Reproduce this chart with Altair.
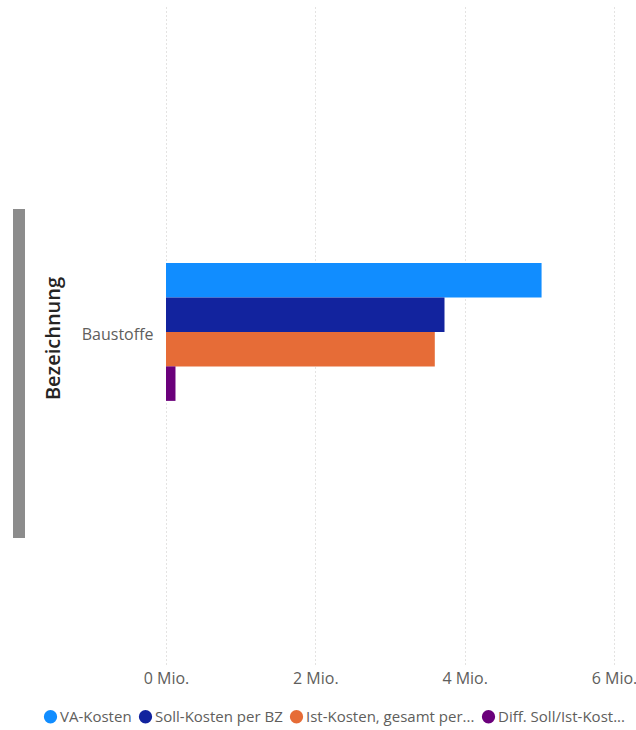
import altair as alt
import pandas as pd

categories = ["Baustoffe"]
series = ["VA-Kosten", "Soll-Kosten per BZ", "Ist-Kosten, gesamt per...", "Diff. Soll/Ist-Kost..."]
values = [5030000, 3730000, 3600000, 127000]
colors = ["#118DFF", "#12239E", "#E66C37", "#6B007B"]
x_ticks = [0, 2000000, 4000000, 6000000]

df = pd.DataFrame({
    "Bezeichnung": categories * len(series),
    "Serie": series,
    "Wert": values,
})

FONT = "Open Sans"

bars = alt.Chart(df).mark_bar().encode(
    y=alt.Y("Bezeichnung:N",
            scale=alt.Scale(paddingInner=0.5, paddingOuter=0.944, align=0.495),
            axis=alt.Axis(title="Bezeichnung", domain=False, ticks=False, grid=False,
                          labelPadding=13, labelFontSize=16, labelColor="#605E5C",
                          labelOffset=3,
                          labelFont=FONT, titleFont=FONT, titleFontSize=20,
                          titleFontWeight=600, titleColor="#252423",
                          titleAngle=270, titleX=-113, titleY=333,
                          titleAlign="center", titleBaseline="middle")),
    yOffset=alt.YOffset("Serie:N", sort=series, scale=alt.Scale(paddingInner=0, paddingOuter=0)),
    x=alt.X("Wert:Q", scale=alt.Scale(domain=[0, 6000000], nice=False),
            axis=alt.Axis(title=None, values=x_ticks, domain=False, ticks=False,
                          labelExpr="datum.value / 1000000 + ' Mio.'",
                          labelFontSize=16, labelColor="#605E5C", labelFont=FONT,
                          labelPadding=6, labelFlush=False, labelOverlap=False,
                          grid=True, gridColor="#C8C6C4",
                          gridDash=[1, 3], gridWidth=1)),
    color=alt.Color("Serie:N", sort=series,
                    scale=alt.Scale(domain=series, range=colors),
                    legend=alt.Legend(title=None, orient="none", direction="horizontal",
                                      legendX=-123, legendY=704, symbolType="circle",
                                      symbolSize=177, symbolStrokeWidth=0, symbolOpacity=1,
                                      labelFontSize=15, labelColor="#605E5C", labelFont=FONT,
                                      labelOffset=2, columnPadding=6, labelLimit=300)),
)

deco = alt.Chart(pd.DataFrame({"d": [0]})).mark_rect(color="#8C8C8C").encode(
    x=alt.value(-153), x2=alt.value(-141), y=alt.value(204), y2=alt.value(533)
)

chart = alt.layer(deco, bars).properties(
    width=448, height=659,
    autosize=alt.AutoSizeParams(type="none"),
    padding={"left": 166, "top": 5, "right": 22, "bottom": 66},
).configure(background="white").configure_view(stroke=None, strokeWidth=0)

chart.save("out.html", embed_options={"renderer": "svg", "actions": False})
